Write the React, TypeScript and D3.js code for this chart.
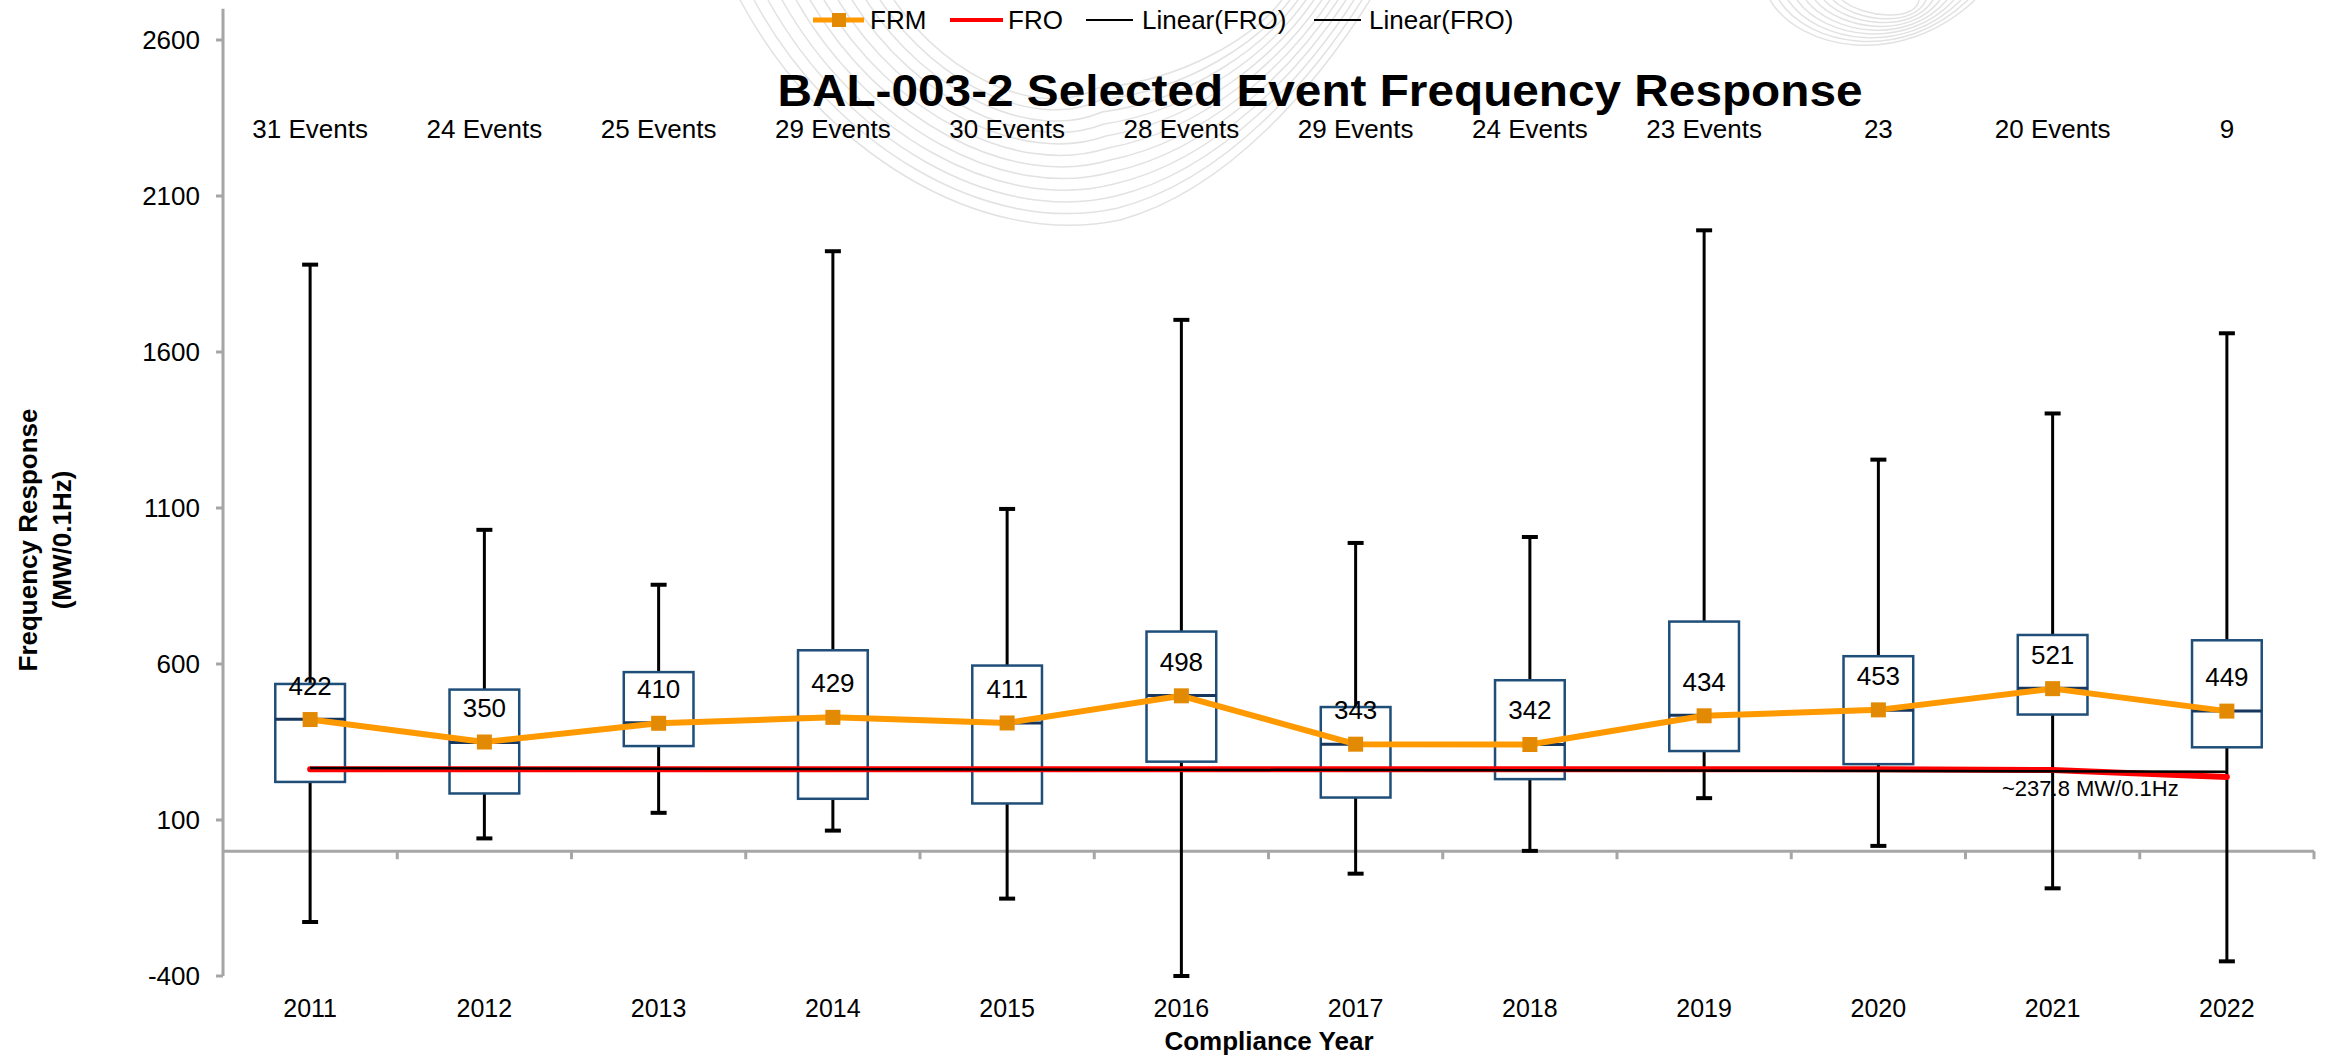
import React from 'react';
import * as d3 from 'd3';

const years = ['2011', '2012', '2013', '2014', '2015', '2016', '2017', '2018', '2019', '2020', '2021', '2022'];
const eventLabels = ['31 Events', '24 Events', '25 Events', '29 Events', '30 Events', '28 Events', '29 Events', '24 Events', '23 Events', '23', '20 Events', '9'];

// box plot stats per compliance year (MW/0.1Hz)
const whiskerHigh = [1880, 1030, 854, 1923, 1097, 1703, 988, 1007, 1990, 1255, 1403, 1660];
const q3 = [536, 518, 574, 644, 595, 704, 462, 548, 736, 625, 693, 676];
const median = [423, 348, 412, 429, 411, 499, 343, 342, 436, 452, 522, 449];
const q1 = [222, 185, 337, 168, 153, 287, 172, 231, 321, 279, 438, 333];
const whiskerLow = [-227, 41, 123, 66, -152, -400, -72, 1, 170, 17, -119, -353];

const frm = [422, 350, 410, 429, 411, 498, 343, 342, 434, 453, 521, 449];
const fro = [263, 263, 263, 263, 263, 263, 263, 263, 263, 263, 260, 238];
const froNote = '~237.8 MW/0.1Hz';

const yTicks = [-400, 100, 600, 1100, 1600, 2100, 2600];
const legendItems = ['FRM', 'FRO', 'Linear(FRO)', 'Linear(FRO)'];

const W = 2333;
const H = 1058;
const FONT = '"Liberation Sans", Arial, Helvetica, sans-serif';

// least squares trend of FRO, same as the spreadsheet trendline
function linearFit(vals: number[]) {
  const n = vals.length;
  const mx = d3.mean(vals, (_, i) => i)!;
  const my = d3.mean(vals)!;
  let sxy = 0, sxx = 0;
  vals.forEach((v, i) => { sxy += (i - mx) * (v - my); sxx += (i - mx) * (i - mx); });
  const slope = sxy / sxx;
  return [my - slope * mx, my + slope * (n - 1 - mx)];
}

// faint background swoosh
function watermark() {
  const paths: string[] = [];
  for (let i = 0; i < 12; i++) {
    const p = d3.path();
    p.moveTo(740 + i * 14, 0);
    p.bezierCurveTo(820 + i * 12, 150 - i * 6, 980 + i * 6, 250 - i * 12, 1120 - i * 2, 220 - i * 12);
    p.bezierCurveTo(1230 - i * 4, 190 - i * 10, 1320 - i * 6, 80 - i * 4, 1370 - i * 8, 0);
    paths.push(p.toString());
  }
  for (let i = 0; i < 9; i++) {
    const p = d3.path();
    p.moveTo(1770 + i * 9, 0);
    p.bezierCurveTo(1800 + i * 8, 50 - i * 4, 1900 + i * 2, 70 - i * 6, 1975 - i * 7, 0);
    paths.push(p.toString());
  }
  return paths;
}

const App: React.FC = () => {
  const x = d3.scaleBand<string>().domain(years).range([223, 2314]).padding(0);
  const y = d3.scaleLinear().domain([-400, 2700]).range([976, 8.8]);
  const cx = (i: number) => x(years[i])! + x.bandwidth() / 2;
  const boxW = x.bandwidth() * 0.4;
  const capW = 16;

  const line = d3.line<number>().x((_, i) => cx(i)).y(d => y(d));
  const trend = linearFit(fro);

  const bounds = years.map((yr) => x(yr)!).concat([x(years[years.length - 1])! + x.bandwidth()]);

  return (
    <svg width={W} height={H} style={{ position: 'absolute', left: 0, top: 0, background: '#fff' }} fontFamily={FONT}>
      <rect width={W} height={H} fill="#fff" />
      <g fill="none" stroke="#e2e2e2" strokeWidth={1.5}>
        {watermark().map((d, i) => <path key={i} d={d} />)}
      </g>

      {/* legend */}
      <g fontSize={26}>
        <line x1={813} x2={864} y1={20} y2={20} stroke="#FF9900" strokeWidth={5} />
        <rect x={832} y={13} width={14} height={14} fill="#E38A05" />
        <text x={870} y={29}>{legendItems[0]}</text>
        <line x1={950} x2={1003} y1={20} y2={20} stroke="#FF0000" strokeWidth={4} />
        <text x={1008} y={29}>{legendItems[1]}</text>
        <line x1={1086} x2={1133} y1={20} y2={20} stroke="#000" strokeWidth={2} />
        <text x={1142} y={29}>{legendItems[2]}</text>
        <line x1={1314} x2={1361} y1={20} y2={20} stroke="#000" strokeWidth={2} />
        <text x={1369} y={29}>{legendItems[3]}</text>
      </g>

      <text x={1320} y={106} fontSize={44} fontWeight="bold" textAnchor="middle" textLength={1085} lengthAdjust="spacingAndGlyphs">
        BAL-003-2 Selected Event Frequency Response
      </text>

      {/* event counts */}
      <g fontSize={26} textAnchor="middle">
        {eventLabels.map((t, i) => <text key={i} x={cx(i)} y={138}>{t}</text>)}
      </g>

      {/* axes */}
      <g stroke="#A6A6A6" strokeWidth={3}>
        <line x1={223} x2={223} y1={y(2700)} y2={y(-400)} />
        {yTicks.map(t => <line key={t} x1={216} x2={223} y1={y(t)} y2={y(t)} />)}
        <line x1={223} x2={2314} y1={y(0)} y2={y(0)} />
        {bounds.slice(1).map((b, i) => <line key={i} x1={b} x2={b} y1={y(0)} y2={y(0) + 8} />)}
      </g>
      <g fontSize={26} textAnchor="end">
        {yTicks.map(t => <text key={t} x={200} y={y(t)} dy="0.35em">{t}</text>)}
      </g>
      <g fontSize={25} textAnchor="middle">
        {years.map((yr, i) => <text key={yr} x={cx(i)} y={1017}>{yr}</text>)}
      </g>
      <text x={1269} y={1050} fontSize={26} fontWeight="bold" textAnchor="middle">Compliance Year</text>
      <g fontSize={26} fontWeight="bold" textAnchor="middle">
        <text transform={`translate(37,540) rotate(-90)`}>Frequency Response</text>
        <text transform={`translate(71,540) rotate(-90)`}>(MW/0.1Hz)</text>
      </g>

      {/* whiskers */}
      <g stroke="#000" strokeWidth={3}>
        {years.map((yr, i) => (
          <g key={yr}>
            <line x1={cx(i)} x2={cx(i)} y1={y(whiskerHigh[i])} y2={y(whiskerLow[i])} />
            <line x1={cx(i) - capW / 2} x2={cx(i) + capW / 2} y1={y(whiskerHigh[i])} y2={y(whiskerHigh[i])} strokeWidth={4} />
            <line x1={cx(i) - capW / 2} x2={cx(i) + capW / 2} y1={y(whiskerLow[i])} y2={y(whiskerLow[i])} strokeWidth={4} />
          </g>
        ))}
      </g>

      {/* boxes */}
      <g>
        {years.map((yr, i) => (
          <g key={yr}>
            <rect x={cx(i) - boxW / 2} y={y(q3[i])} width={boxW} height={y(q1[i]) - y(q3[i])}
              fill="#fff" stroke="#1F4E79" strokeWidth={2.5} />
            <line x1={cx(i) - boxW / 2} x2={cx(i) + boxW / 2} y1={y(median[i])} y2={y(median[i])}
              stroke="#17375E" strokeWidth={3} />
          </g>
        ))}
      </g>

      {/* FRO and trend */}
      <path d={line(fro)!} fill="none" stroke="#FF0000" strokeWidth={6} strokeLinecap="round" strokeLinejoin="round" />
      <line x1={cx(0)} x2={cx(years.length - 1)} y1={y(trend[0])} y2={y(trend[1])} stroke="#000" strokeWidth={2.5} />
      <line x1={cx(0)} x2={cx(years.length - 1)} y1={y(trend[0])} y2={y(trend[1])} stroke="#000" strokeWidth={1} />
      <text x={2002} y={796} fontSize={22}>{froNote}</text>

      {/* FRM */}
      <path d={line(frm)!} fill="none" stroke="#FF9900" strokeWidth={6} strokeLinejoin="round" />
      {frm.map((v, i) => (
        <rect key={i} x={cx(i) - 7.5} y={y(v) - 7.5} width={15} height={15} fill="#E38A05" />
      ))}
      <g fontSize={26} textAnchor="middle">
        {frm.map((v, i) => <text key={i} x={cx(i)} y={y(v) - 25}>{v}</text>)}
      </g>
    </svg>
  );
};

export default App;
